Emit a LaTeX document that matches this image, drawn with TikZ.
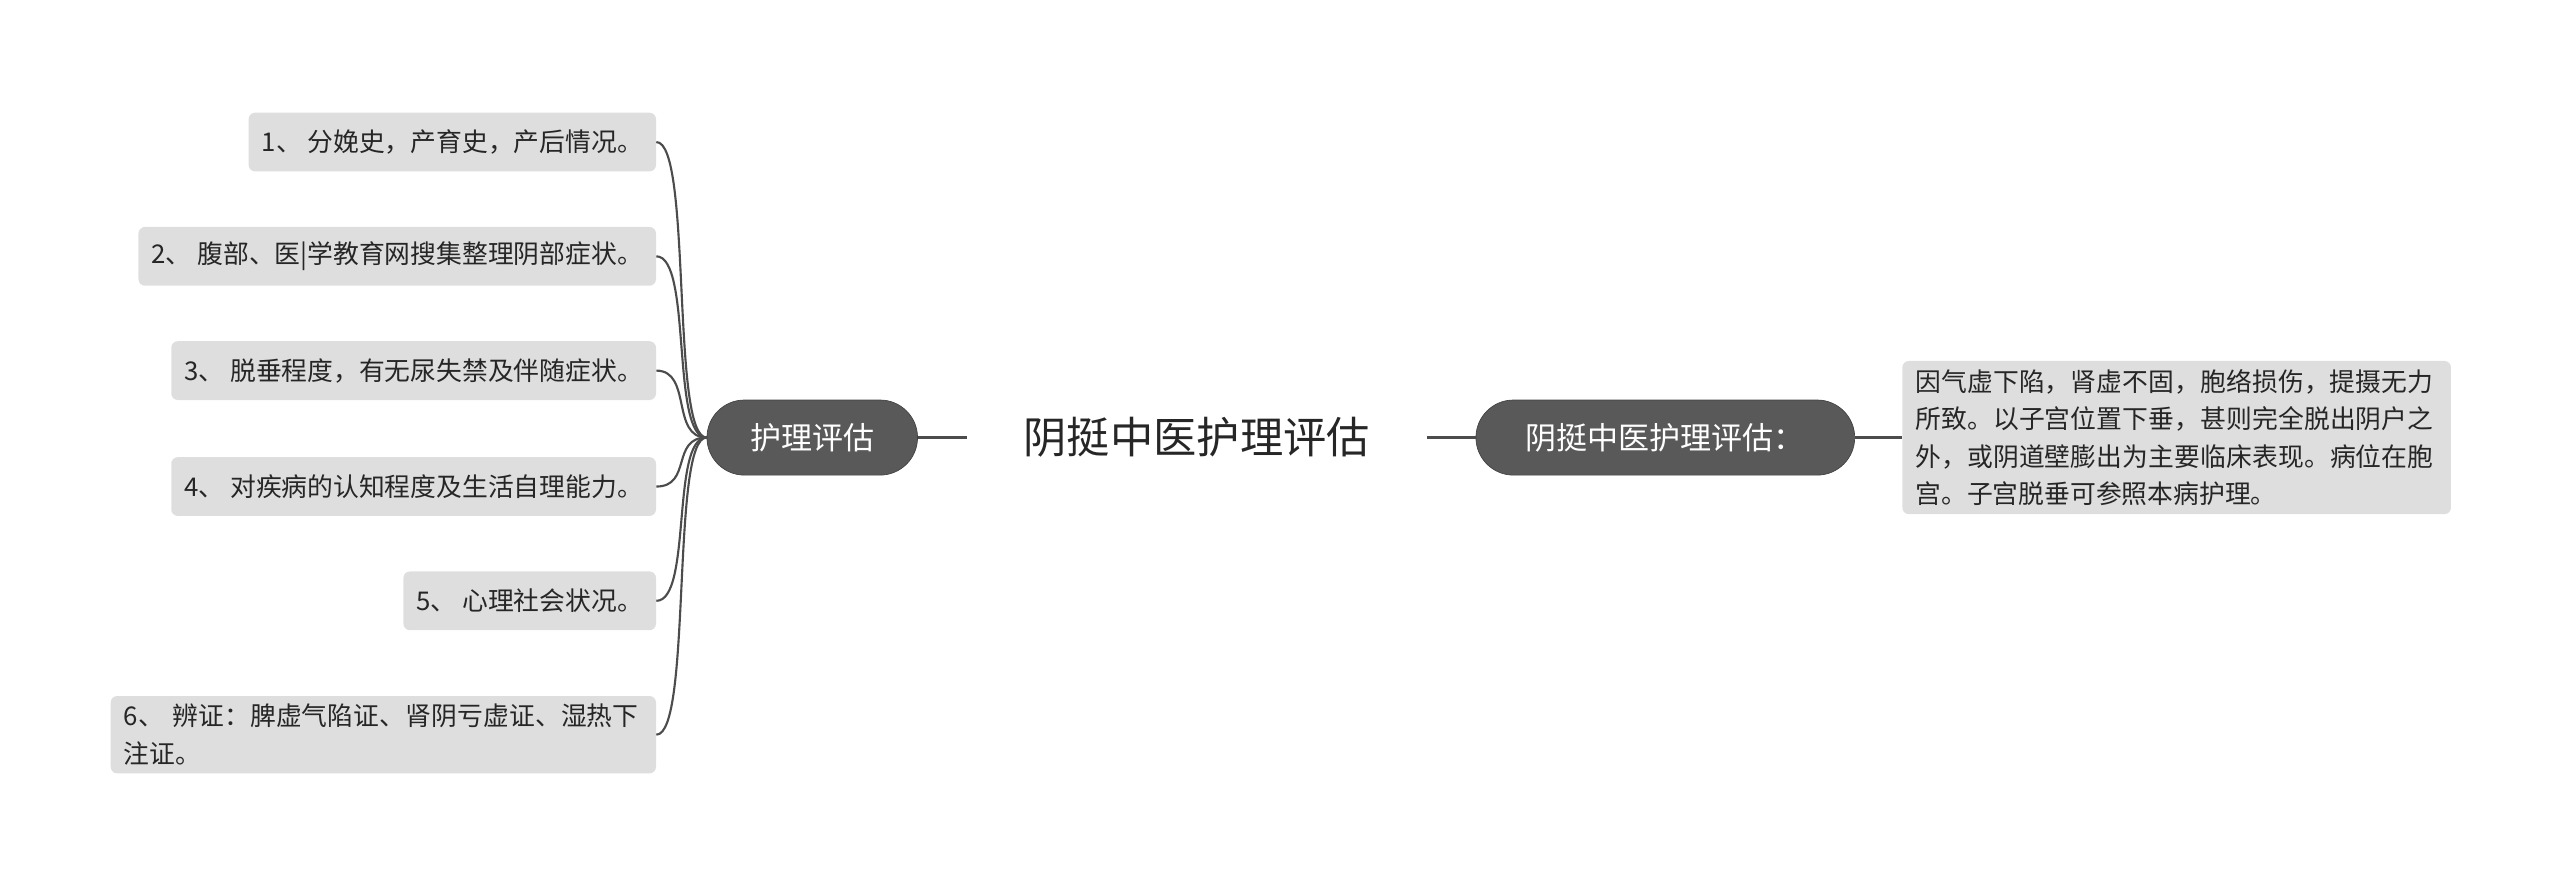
\documentclass[tikz,border=0pt]{standalone}
\usepackage{fontspec}
\setmainfont{Noto Sans CJK SC}
\XeTeXlinebreaklocale "zh"
\XeTeXlinebreakskip=0pt plus 1pt
\begin{document}
\begin{tikzpicture}[x=1pt,y=-1pt,
  leaf/.style={fill=black!13,rounded corners=4pt,inner xsep=8pt,inner ysep=0pt,minimum height=36pt,font=\fontsize{15.8}{23}\selectfont,text=black!85},
  pill/.style={fill=black!65,draw=black!75,rounded corners=23pt,minimum height=46pt,inner xsep=22pt,text=white,font=\fontsize{19}{22}\selectfont},
  conn/.style={draw=black!70,line width=1.3pt}]
\useasboundingbox (0,0) rectangle (1568,546);
\node[font=\fontsize{26.5}{30}\selectfont,text=black!85] (C) at (733,268) {阴挺中医护理评估};
\node[pill,minimum width=129pt] (L) at (497.5,268) {护理评估};
\node[pill,minimum width=232pt] (R) at (1020,268) {阴挺中医护理评估：};
\node[leaf,anchor=west,text width=320pt,align=left,inner ysep=5pt] (RL) at (1165,268) {因气虚下陷，肾虚不固，胞络损伤，提摄无力所致。以子宫位置下垂，甚则完全脱出阴户之外，或阴道壁膨出为主要临床表现。病位在胞宫。子宫脱垂可参照本病护理。};
\node[leaf,anchor=east] (a1) at (402,87) {1、 分娩史，产育史，产后情况。};
\node[leaf,anchor=east] (a2) at (402,157) {2、 腹部、医|学教育网搜集整理阴部症状。};
\node[leaf,anchor=east] (a3) at (402,227) {3、 脱垂程度，有无尿失禁及伴随症状。};
\node[leaf,anchor=east] (a4) at (402,298) {4、 对疾病的认知程度及生活自理能力。};
\node[leaf,anchor=east] (a5) at (402,368) {5、 心理社会状况。};
\node[leaf,anchor=east,text width=318pt,align=left,inner ysep=5pt] (a6) at (402,450) {6、 辨证：脾虚气陷证、肾阴亏虚证、湿热下注证。};
\coordinate (c1) at (592,268);
\coordinate (c2) at (874,268);
\draw[conn] (L.east) -- (c1);
\draw[conn] (c2) -- (R.west);
\draw[conn] (R.east) -- (RL.west);
\foreach \n in {a1,a2,a3,a4,a5,a6}
  \draw[conn] (L.west) .. controls +(-22,0) and +(22,0) .. (\n.east);
\end{tikzpicture}
\end{document}
